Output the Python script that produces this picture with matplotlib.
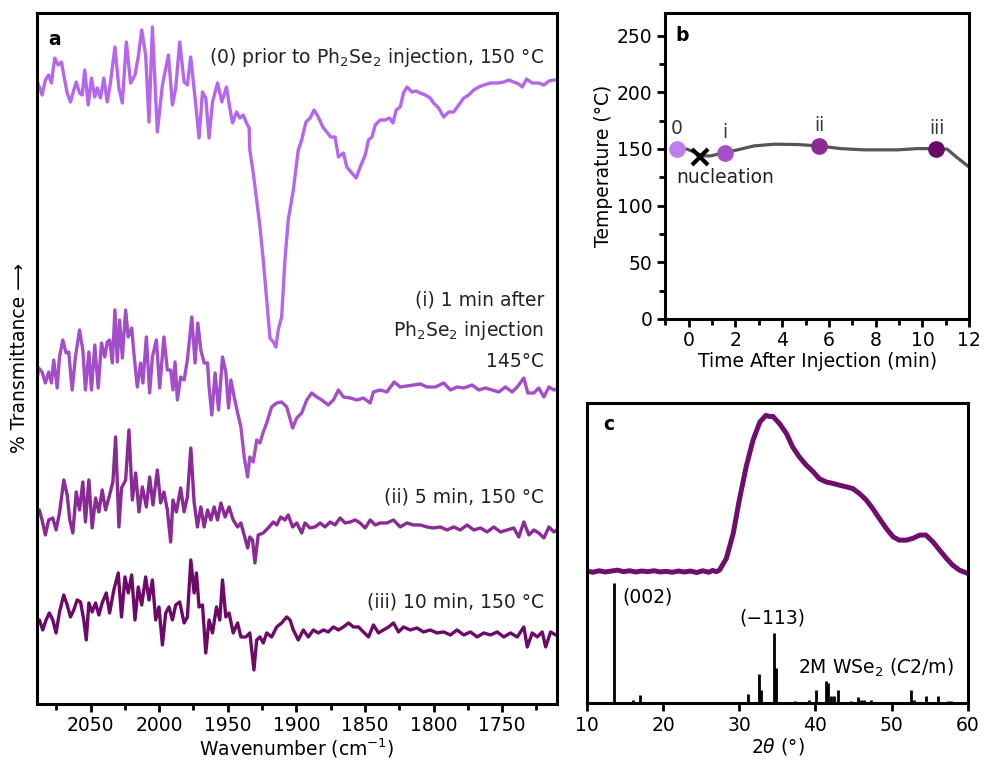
import numpy as np
import matplotlib
matplotlib.use('Agg')
import matplotlib.pyplot as plt
from matplotlib.ticker import MultipleLocator

plt.rcParams['font.family'] = ['DejaVu Sans']
plt.rcParams['mathtext.fontset'] = 'dejavusans'
FS = 13.5

# ---------- panel a: FTIR spectra (wavenumber, offset transmittance, arb. units)
wn_0 = [2088.8, 2087.3, 2085.3, 2082.9, 2080.5, 2078.5, 2076.1, 2073.6, 2071.2, 2069.5, 2067.0, 2064.6,
        2062.2, 2060.4, 2058.0, 2056.1, 2054.2, 2051.7, 2049.3, 2046.9, 2045.1, 2042.7, 2040.3, 2037.8,
        2035.4, 2032.2, 2029.3, 2026.8, 2023.9, 2020.8, 2017.6, 2015.2, 2012.7, 2009.8, 2007.4, 2004.9,
        2001.3, 1997.6, 1993.2, 1990.3, 1987.9, 1985.0, 1981.8, 1979.4, 1977.0, 1973.8, 1970.9, 1968.4,
        1966.0, 1963.6, 1961.1, 1957.4, 1954.3, 1950.9, 1948.5, 1946.5, 1943.6, 1941.2, 1938.7, 1936.3,
        1934.4, 1933.9, 1931.4, 1928.9, 1926.5, 1924.1, 1921.6, 1919.2, 1916.8, 1914.9, 1913.2, 1910.7,
        1908.3, 1905.9, 1902.2, 1898.6, 1896.1, 1893.0, 1890.0, 1887.1, 1884.0, 1880.7, 1877.8, 1874.9,
        1871.8, 1869.3, 1865.7, 1863.2, 1859.6, 1856.4, 1853.5, 1849.8, 1847.4, 1844.9, 1842.5, 1838.9,
        1835.2, 1832.1, 1829.6, 1827.2, 1824.3, 1821.9, 1819.4, 1815.7, 1812.6, 1809.7, 1806.0, 1802.4,
        1800.0, 1796.3, 1792.6, 1789.0, 1785.3, 1781.7, 1778.0, 1774.4, 1770.7, 1767.1, 1763.4, 1758.5,
        1753.6, 1748.8, 1745.2, 1741.5, 1737.9, 1735.4, 1732.2, 1728.1, 1723.2, 1719.6, 1715.9, 1712.7,
        1710.3]
tr_0 = [622, 617, 609, 624, 629, 621, 646, 639, 642, 629, 611, 602,
        614, 622, 611, 609, 634, 599, 626, 607, 616, 606, 626, 602,
        622, 657, 616, 601, 662, 621, 629, 647, 674, 649, 582, 677,
        572, 619, 649, 599, 616, 662, 622, 619, 647, 606, 566, 612,
        606, 566, 602, 621, 602, 617, 596, 581, 592, 586, 589, 581,
        576, 554, 531, 504, 477, 444, 404, 366, 362, 357, 374, 387,
        444, 484, 514, 554, 564, 582, 586, 594, 587, 577, 572, 567,
        567, 547, 551, 537, 531, 526, 537, 549, 564, 567, 579, 584,
        584, 586, 581, 594, 597, 611, 617, 612, 613, 611, 609, 606,
        601, 596, 587, 592, 592, 599, 606, 609, 614, 617, 619, 621,
        621, 622, 624, 622, 620, 617, 625, 621, 621, 619, 623, 624,
        624]

wn_i = [2088.8, 2087.8, 2085.3, 2082.9, 2080.5, 2078.5, 2076.8, 2074.3, 2072.6, 2070.2, 2067.8, 2065.9,
        2063.4, 2061.0, 2058.0, 2055.6, 2053.7, 2051.2, 2049.3, 2046.9, 2044.4, 2042.0, 2039.6, 2037.8,
        2036.1, 2034.1, 2032.2, 2030.5, 2028.8, 2026.8, 2024.4, 2022.5, 2020.0, 2018.4, 2015.9, 2013.5,
        2011.8, 2009.3, 2006.9, 2004.9, 2002.0, 1999.6, 1996.5, 1994.0, 1991.6, 1989.9, 1988.4, 1986.7,
        1984.3, 1981.8, 1979.4, 1976.2, 1973.8, 1971.8, 1969.6, 1967.2, 1964.7, 1963.6, 1961.6, 1959.2,
        1956.7, 1953.8, 1951.4, 1949.4, 1947.7, 1945.3, 1942.8, 1940.4, 1938.0, 1935.5, 1933.9, 1931.4,
        1928.9, 1926.5, 1924.1, 1921.6, 1918.0, 1914.3, 1910.7, 1907.0, 1902.7, 1899.7, 1896.1, 1892.4,
        1888.8, 1885.1, 1881.5, 1876.7, 1873.0, 1869.3, 1865.7, 1860.8, 1855.9, 1851.1, 1846.2, 1843.8,
        1838.9, 1834.0, 1828.7, 1824.3, 1819.4, 1814.6, 1809.7, 1804.8, 1798.7, 1792.6, 1787.7, 1782.9,
        1778.0, 1771.9, 1767.1, 1762.2, 1757.3, 1752.5, 1747.6, 1742.7, 1739.0, 1734.2, 1731.3, 1726.9,
        1723.3, 1719.6, 1715.9, 1712.3, 1710.0]
tr_i = [326, 336, 332, 321, 332, 321, 344, 316, 347, 364, 351, 352,
        314, 347, 374, 354, 314, 352, 314, 359, 316, 361, 347, 362,
        364, 341, 394, 342, 384, 346, 394, 367, 376, 351, 317, 341,
        321, 367, 311, 347, 364, 316, 367, 334, 334, 314, 342, 304,
        327, 324, 344, 387, 341, 381, 354, 341, 341, 317, 289, 331,
        294, 347, 332, 296, 324, 307, 291, 277, 247, 227, 247, 242,
        264, 261, 272, 281, 297, 301, 302, 297, 276, 286, 291, 304,
        311, 307, 304, 299, 304, 314, 307, 306, 304, 306, 301, 312,
        314, 312, 322, 317, 318, 319, 320, 317, 317, 321, 314, 317,
        316, 319, 314, 316, 314, 312, 317, 312, 317, 326, 311, 311,
        316, 307, 317, 314, 315]

wn_ii = [2088.8, 2087.3, 2085.3, 2082.9, 2080.5, 2077.5, 2075.1, 2072.6, 2069.5, 2067.0, 2065.1, 2062.9,
         2060.4, 2058.0, 2055.6, 2053.7, 2051.2, 2048.8, 2046.3, 2043.9, 2041.5, 2039.0, 2036.1, 2033.7,
         2031.7, 2029.3, 2027.4, 2024.4, 2022.0, 2019.5, 2017.1, 2014.7, 2012.2, 2009.3, 2006.9, 2004.5,
         2001.3, 1998.9, 1996.5, 1994.0, 1991.6, 1989.9, 1987.4, 1984.3, 1981.8, 1979.4, 1976.9, 1974.5,
         1972.1, 1969.6, 1967.2, 1964.7, 1962.3, 1959.9, 1957.4, 1955.0, 1951.9, 1949.0, 1946.0, 1942.8,
         1940.4, 1938.0, 1935.5, 1933.9, 1931.9, 1930.2, 1927.8, 1924.1, 1920.5, 1916.8, 1914.3, 1911.4,
         1908.3, 1905.9, 1902.7, 1899.7, 1896.1, 1893.7, 1890.0, 1886.4, 1882.7, 1879.1, 1875.4, 1871.8,
         1868.1, 1864.4, 1860.8, 1857.1, 1853.5, 1849.8, 1846.2, 1842.5, 1838.9, 1834.0, 1829.2, 1824.3,
         1819.4, 1814.6, 1809.7, 1804.8, 1800.0, 1795.1, 1790.2, 1785.3, 1780.5, 1775.6, 1770.7, 1765.8,
         1761.0, 1756.1, 1751.2, 1746.4, 1741.5, 1737.9, 1734.2, 1730.5, 1726.9, 1723.3, 1719.6, 1715.9,
         1712.3, 1710.0]
tr_ii = [190, 194, 184, 169, 184, 186, 174, 191, 224, 209, 184, 171,
         212, 194, 222, 182, 224, 176, 206, 192, 214, 194, 209, 222,
         267, 177, 216, 224, 274, 204, 231, 192, 217, 197, 227, 199,
         234, 201, 212, 194, 162, 204, 192, 216, 192, 207, 256, 202,
         177, 197, 177, 194, 184, 197, 184, 201, 187, 197, 184, 177,
         181, 169, 156, 167, 164, 141, 169, 171, 176, 182, 179, 187,
         184, 189, 177, 181, 171, 181, 176, 177, 181, 177, 182, 179,
         186, 181, 182, 184, 181, 176, 184, 179, 181, 181, 184, 177,
         181, 179, 179, 177, 176, 177, 174, 177, 174, 179, 174, 176,
         172, 177, 172, 174, 176, 167, 182, 169, 174, 171, 166, 177,
         172, 174]

wn_iii = [2088.8, 2087.3, 2084.8, 2082.4, 2080.0, 2077.5, 2075.1, 2072.6, 2069.5, 2067.0, 2064.6, 2062.2,
          2059.7, 2057.3, 2054.9, 2053.1, 2051.2, 2048.8, 2046.3, 2043.9, 2041.5, 2038.5, 2036.1, 2033.0,
          2029.8, 2027.4, 2024.9, 2022.5, 2020.0, 2017.6, 2015.2, 2012.7, 2009.8, 2007.4, 2004.9, 2002.5,
          2000.1, 1997.6, 1995.2, 1992.8, 1990.3, 1987.9, 1985.0, 1981.8, 1979.4, 1976.9, 1974.5, 1972.8,
          1970.9, 1968.4, 1966.0, 1963.6, 1961.1, 1958.2, 1955.8, 1953.8, 1951.4, 1949.0, 1946.0, 1942.8,
          1940.4, 1936.8, 1933.9, 1930.9, 1928.9, 1926.5, 1924.1, 1921.6, 1918.0, 1914.3, 1910.7, 1907.0,
          1904.6, 1902.2, 1898.6, 1894.9, 1891.3, 1887.6, 1884.0, 1880.3, 1876.7, 1873.0, 1869.3, 1865.7,
          1862.0, 1858.4, 1854.7, 1851.1, 1847.4, 1843.8, 1840.1, 1836.5, 1832.8, 1829.2, 1825.5, 1821.9,
          1817.0, 1812.1, 1807.3, 1802.4, 1797.5, 1792.6, 1787.7, 1782.9, 1778.0, 1773.1, 1768.2, 1763.4,
          1758.5, 1753.6, 1748.8, 1743.9, 1739.0, 1734.2, 1731.7, 1728.1, 1724.4, 1720.8, 1718.3, 1714.7,
          1711.0, 1710.0]
tr_iii = [80, 84, 74, 84, 91, 84, 71, 92, 109, 99, 87, 94,
          104, 102, 84, 64, 101, 92, 101, 89, 101, 111, 91, 114,
          131, 87, 127, 111, 129, 84, 117, 99, 127, 104, 124, 84,
          97, 59, 91, 97, 84, 99, 102, 81, 87, 144, 111, 131,
          97, 99, 51, 84, 71, 97, 84, 124, 87, 91, 71, 81,
          67, 67, 71, 34, 64, 67, 61, 71, 67, 77, 81, 87,
          84, 74, 64, 74, 67, 74, 71, 74, 72, 77, 74, 77,
          81, 77, 77, 72, 67, 79, 71, 74, 77, 81, 72, 77,
          74, 76, 72, 74, 71, 72, 69, 74, 69, 72, 67, 71,
          69, 72, 67, 71, 67, 77, 57, 71, 67, 72, 57, 72,
          69, 70]

spec_colors = ['#b466ee', '#a24ec8', '#8a2a96', '#6b0a68']
spec_labels = [(647, ['(0) prior to Ph$_2$Se$_2$ injection, 150 °C']),
               (404, ['(i) 1 min after', 'Ph$_2$Se$_2$ injection', '145°C']),
               (207, ['(ii) 5 min, 150 °C']),
               (102, ['(iii) 10 min, 150 °C'])]

# ---------- panel b: temperature profile
time_min = [-0.5, -0.06, 0.3, 0.59, 0.95, 1.23, 1.55, 2.09, 2.8, 3.66, 4.65, 5.58,
            6.5, 7.5, 8.93, 9.78, 10.6, 11.06, 11.48, 12.03]
temp_c = [150.3, 149.8, 146.8, 143.9, 143.9, 145.3, 146.8, 149.2, 152.7, 154.2, 153.9, 152.7,
          150.3, 149.2, 149.2, 150.3, 150.3, 149.8, 142.4, 133.5]
point_t = [-0.5, 1.55, 5.58, 10.6]
point_T = [150.3, 146.8, 152.7, 150.3]
point_names = ['0', 'i', 'ii', 'iii']
point_colors = ['#c07cf0', '#a550c8', '#8a2a94', '#6a0a66']
nuc_t, nuc_T = 0.48, 143.3

# ---------- panel c: XRD
two_theta = [10.0, 10.8, 11.6, 12.4, 13.2, 14.0, 14.8, 15.6, 16.4, 17.2, 18.0, 18.8, 19.6, 20.4,
             21.2, 22.0, 22.8, 23.6, 24.4, 25.2, 26.0, 26.5, 27.0, 27.4, 28.3, 29.2, 30.0, 30.9,
             31.8, 32.7, 33.5, 34.0, 34.4, 35.3, 36.2, 37.0, 37.9, 38.8, 39.7, 40.5, 41.4, 42.3,
             43.2, 44.0, 44.9, 45.8, 46.7, 47.5, 48.4, 49.3, 50.2, 51.0, 51.9, 52.8, 53.7, 54.5,
             55.4, 56.3, 57.2, 58.0, 58.9, 60.0]
xrd_int = [0.440, 0.436, 0.441, 0.437, 0.440, 0.443, 0.438, 0.441, 0.437, 0.440, 0.438, 0.441, 0.437, 0.439,
           0.436, 0.440, 0.437, 0.440, 0.435, 0.441, 0.436, 0.442, 0.438, 0.443, 0.482, 0.565, 0.676, 0.787,
           0.876, 0.937, 0.959, 0.955, 0.956, 0.931, 0.898, 0.854, 0.820, 0.793, 0.771, 0.748, 0.737, 0.732,
           0.726, 0.721, 0.715, 0.698, 0.676, 0.649, 0.615, 0.582, 0.554, 0.543, 0.543, 0.549, 0.560, 0.560,
           0.538, 0.510, 0.482, 0.460, 0.443, 0.432]
ref_pos = [13.5, 16.0, 16.9, 31.1, 32.6, 32.9, 34.6, 34.8, 37.3, 39.2, 40.1, 41.4, 41.6, 42.1,
           42.5, 42.9, 44.7, 45.6, 46.0, 46.4, 47.3, 49.9, 52.6, 53.0, 54.5, 56.1, 57.4, 57.8]
ref_int = [0.401, 0.009, 0.028, 0.031, 0.098, 0.044, 0.235, 0.116, 0.006, 0.011, 0.044, 0.072, 0.066, 0.024,
           0.024, 0.044, 0.006, 0.020, 0.011, 0.009, 0.009, 0.004, 0.044, 0.009, 0.025, 0.022, 0.006, 0.006]

fig = plt.figure(figsize=(9.84, 7.66), dpi=100)
ax_a = fig.add_axes([0.0376, 0.081, 0.5285, 0.902])
ax_b = fig.add_axes([0.676, 0.5836, 0.309, 0.3995])
ax_c = fig.add_axes([0.5965, 0.0822, 0.387, 0.3916])

for ax in (ax_a, ax_b, ax_c):
    for s in ax.spines.values():
        s.set_linewidth(2.2)
    ax.tick_params(which='major', direction='out', length=6, width=2, labelsize=FS, pad=3)
    ax.tick_params(which='minor', direction='out', length=4, width=2)

# panel a
for wn, tr, c in zip([wn_0, wn_i, wn_ii, wn_iii], [tr_0, tr_i, tr_ii, tr_iii], spec_colors):
    ax_a.plot(wn, tr, color=c, lw=2.4, solid_joinstyle='round')
ax_a.set_xlim(2089, 1710)
ax_a.set_ylim(0, 691)
ax_a.xaxis.set_major_locator(MultipleLocator(50))
ax_a.xaxis.set_minor_locator(MultipleLocator(25))
ax_a.set_yticks([])
ax_a.set_xlabel('Wavenumber (cm$^{-1}$)', fontsize=FS, labelpad=1)
ax_a.set_ylabel('% Transmittance \u27f6', fontsize=FS, labelpad=6)
ax_a.text(0.021, 0.962, 'a', transform=ax_a.transAxes, fontsize=FS, fontweight='bold', va='center')
for y0, lines in spec_labels:
    for k, line in enumerate(lines):
        ax_a.text(0.975, (y0 - 31 * k) / 691, line, transform=ax_a.transAxes, ha='right', va='center',
                  fontsize=FS, color='#222222')

# panel b
ax_b.plot(time_min, temp_c, color='#555555', lw=2.3, zorder=1)
for t, T, name, c in zip(point_t, point_T, point_names, point_colors):
    ax_b.plot(t, T, 'o', ms=11, color=c, mec=c, zorder=3)
    ax_b.text(t, T + 18, name, ha='center', va='center', fontsize=FS, color='#333333')
ax_b.plot(nuc_t, nuc_T, 'x', ms=11, mew=3, color='black', zorder=4)
ax_b.text(1.55, 124.7, 'nucleation', ha='center', va='center', fontsize=FS, color='#222222')
ax_b.text(-0.27, 250, 'b', fontsize=FS, fontweight='bold', va='center', ha='center')
ax_b.set_xlim(-1, 12)
ax_b.set_ylim(0, 270)
ax_b.xaxis.set_major_locator(MultipleLocator(2))
ax_b.xaxis.set_minor_locator(MultipleLocator(1))
ax_b.yaxis.set_major_locator(MultipleLocator(50))
ax_b.yaxis.set_minor_locator(MultipleLocator(25))
ax_b.set_xlabel('Time After Injection (min)', fontsize=FS, labelpad=1)
ax_b.set_ylabel('Temperature (°C)', fontsize=FS, labelpad=3)

# panel c
ax_c.plot(two_theta, xrd_int, color='#6e0f70', lw=3.6, solid_joinstyle='round')
ax_c.vlines(ref_pos, 0, ref_int, color='black', lw=2)
ax_c.set_xlim(10, 60)
ax_c.set_ylim(0, 1)
ax_c.xaxis.set_major_locator(MultipleLocator(10))
ax_c.set_yticks([])
ax_c.set_xlabel('2$\\theta$ (°)', fontsize=FS, labelpad=1)
ax_c.text(0.042, 0.93, 'c', transform=ax_c.transAxes, fontsize=FS, fontweight='bold', va='center')
ax_c.text(14.7, 0.355, '(002)', ha='left', va='center', fontsize=FS)
ax_c.text(34.3, 0.283, '(\u2212113)', ha='center', va='center', fontsize=FS)
ax_c.text(37.7, 0.116, '2M WSe$_2$ ($C$2/m)', ha='left', va='center', fontsize=FS)

fig.savefig('out.png', dpi=100)
